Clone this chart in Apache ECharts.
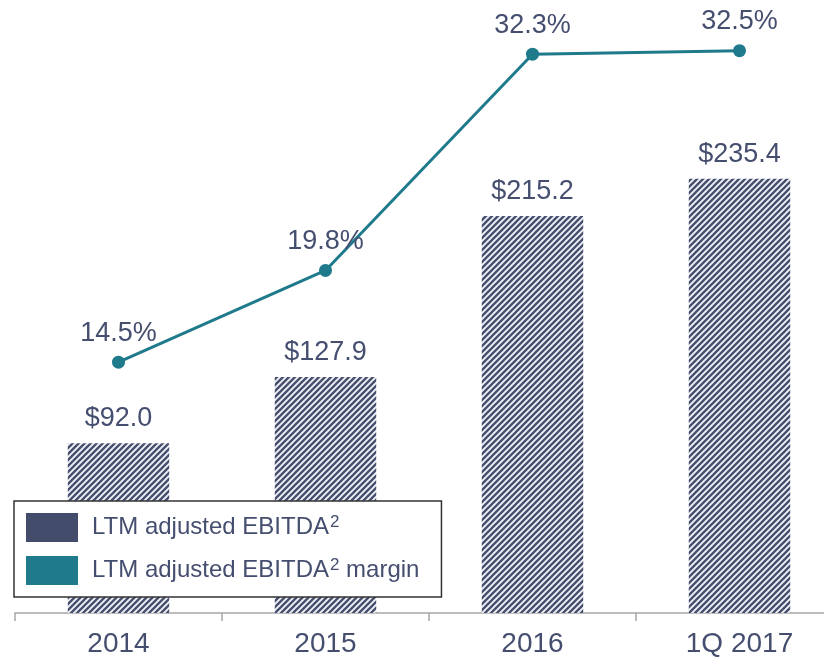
<!DOCTYPE html>
<html>
<head>
<meta charset="utf-8">
<script src="https://cdn.jsdelivr.net/npm/echarts@6/dist/echarts.min.js"></script>
<style>
  html, body { margin: 0; padding: 0; background: #fff; }
  #chart { width: 824px; height: 659px; }
</style>
</head>
<body>
<div id="chart"></div>
<script>
var categories = ['2014', '2015', '2016', '1Q 2017'];
var ebitda = [92.0, 127.9, 215.2, 235.4];
var margin = [14.5, 19.8, 32.3, 32.5];

var textColor = '#454e6f';
var navy = '#434c6b';
var teal = '#1f7a8c';

// diagonal hatch for the bars
function makeHatch() {
    var c = document.createElement('canvas');
    c.width = 6;
    c.height = 6;
    var ctx = c.getContext('2d');
    ctx.fillStyle = '#f3f4f7';
    ctx.fillRect(0, 0, 6, 6);
    ctx.strokeStyle = '#46506f';
    ctx.lineWidth = 2.4;
    ctx.beginPath();
    ctx.moveTo(-3, 3); ctx.lineTo(3, -3);
    ctx.moveTo(0, 6); ctx.lineTo(6, 0);
    ctx.moveTo(3, 9); ctx.lineTo(9, 3);
    ctx.stroke();
    return c;
}

var chart = echarts.init(document.getElementById('chart'));
var option = {
    animation: false,
    textStyle: { fontFamily: 'Liberation Sans, Arial, sans-serif' },
    // last category runs past the right edge in the original
    grid: { left: 15, width: 828, top: 13, bottom: 46, outerBoundsMode: 'none', containLabel: false },
    legend: {
        orient: 'vertical',
        left: 14,
        top: 501,
        padding: [12, 22, 12, 12],
        itemGap: 14,
        itemWidth: 52,
        itemHeight: 29,
        backgroundColor: '#fff',
        borderColor: '#333',
        borderWidth: 1.5,
        borderRadius: 0,
        data: [
            { name: 'LTM adjusted EBITDA', icon: 'rect', itemStyle: { color: navy } },
            { name: 'LTM adjusted EBITDA margin', icon: 'rect', itemStyle: { color: teal } }
        ],
        formatter: function (name) {
            if (name === 'LTM adjusted EBITDA') return 'LTM adjusted EBITDA{sup|2}';
            return 'LTM adjusted EBITDA{sup|2} margin';
        },
        textStyle: {
            color: textColor,
            fontSize: 24,
            padding: [0, 0, 0, 9],
            rich: {
                sup: { fontSize: 17, color: textColor, verticalAlign: 'top', padding: [0, 0, 10, 1] }
            }
        }
    },
    xAxis: {
        type: 'category',
        data: categories,
        boundaryGap: true,
        axisLine: { lineStyle: { color: '#a6a6a6', width: 1.5 } },
        axisTick: { show: true, length: 8, lineStyle: { color: '#a6a6a6', width: 1.5 } },
        axisLabel: { color: textColor, fontSize: 28, margin: 17 }
    },
    yAxis: [
        { type: 'value', min: 0, max: 325.2, show: false, splitLine: { show: false } },
        { type: 'value', min: 0, max: 34.68, show: false, splitLine: { show: false } }
    ],
    series: [
        {
            name: 'LTM adjusted EBITDA',
            type: 'bar',
            yAxisIndex: 0,
            data: ebitda,
            barWidth: '49%',
            itemStyle: { color: { image: makeHatch(), repeat: 'repeat' } },
            label: {
                show: true,
                position: 'top',
                distance: 11,
                color: textColor,
                fontSize: 27,
                formatter: function (p) { return '$' + p.value.toFixed(1); }
            }
        },
        {
            name: 'LTM adjusted EBITDA margin',
            type: 'line',
            yAxisIndex: 1,
            data: margin,
            symbol: 'circle',
            symbolSize: 13,
            lineStyle: { color: teal, width: 3 },
            itemStyle: { color: teal },
            label: {
                show: true,
                position: 'top',
                distance: 9,
                color: textColor,
                fontSize: 27,
                formatter: function (p) { return p.value.toFixed(1) + '%'; }
            },
            z: 3
        }
    ]
};
chart.setOption(option);
</script>
</body>
</html>
